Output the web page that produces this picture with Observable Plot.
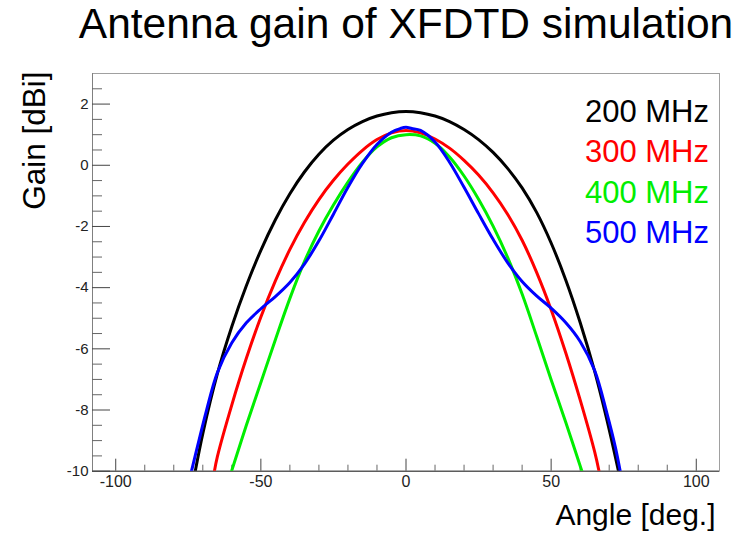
<!DOCTYPE html>
<html>
<head>
<meta charset="utf-8">
<script src="https://cdn.jsdelivr.net/npm/d3@7"></script>
<script src="https://cdn.jsdelivr.net/npm/@observablehq/plot@0.6"></script>
<style>
  html, body { margin: 0; padding: 0; background: #fff; }
  body { font-family: "Liberation Sans", Arial, Helvetica, sans-serif; }
  #wrap { position: relative; width: 750px; height: 535px; overflow: hidden; background: #fff; }
  #title { position: absolute; left: 406px; top: 3px; transform: translateX(-50%);
           white-space: nowrap; font-size: 42.5px; line-height: 42px; color: #000; }
  #chart { position: absolute; left: 0; top: 60px; }
</style>
</head>
<body>
<div id="wrap">
  <div id="title"></div>
  <div id="chart"></div>
</div>
<script>
// ---- text ----
const titleText = "Antenna gain of XFDTD simulation";
const xLabel = "Angle [deg.]";
const yLabel = "Gain [dBi]";

// ---- series (legend labels and colours) ----
const freqs = ["200 MHz", "300 MHz", "400 MHz", "500 MHz"];
const colors = ["#000000", "#ff0000", "#00ee00", "#0000ff"];

// ---- data: angle [deg.] and gain [dBi] ----
const angle200 = [-72.6, -70, -65, -60, -55, -50, -45, -40, -35, -30, -25, -20, -15, -10, -5, 0,
                  5, 10, 15, 20, 25, 30, 35, 40, 45, 50, 55, 60, 65, 70, 73.2];
const gain200  = [-10, -8.77, -6.82, -5.27, -3.94, -2.78, -1.78, -0.93, -0.22, 0.36, 0.82, 1.17, 1.43, 1.61, 1.72, 1.76,
                  1.72, 1.61, 1.43, 1.17, 0.84, 0.42, -0.1, -0.74, -1.54, -2.54, -3.74, -5.14, -6.74, -8.64, -10];

const angle300 = [-66.0, -65, -60, -55, -50, -45, -40, -35, -30, -25, -20, -15, -10, -5, 0,
                  5, 10, 15, 20, 25, 30, 35, 40, 45, 50, 55, 60, 65, 66.5];
const gain300  = [-10, -9.53, -7.83, -6.31, -4.96, -3.78, -2.75, -1.87, -1.12, -0.49, 0.04, 0.49, 0.84, 1.06, 1.14,
                  1.06, 0.86, 0.56, 0.16, -0.32, -0.9, -1.6, -2.45, -3.5, -4.72, -6.12, -7.67, -9.37, -10];

const angle400 = [-60.1, -55, -50, -45, -40, -35, -30, -25, -20, -15, -10, -5, 0,
                  5, 10, 15, 20, 25, 30, 35, 40, 45, 50, 55, 60.6];
const gain400  = [-10, -8.5, -7.1, -5.7, -4.35, -3.15, -2.15, -1.3, -0.55, 0.1, 0.6, 0.9, 1.0,
                  0.96, 0.72, 0.27, -0.35, -1.11, -1.99, -3.01, -4.21, -5.59, -7.01, -8.39, -10];

const angle500 = [-73.9, -71.6, -68.7, -65, -60, -55, -50, -45, -40, -35, -30, -25, -20, -15, -10, -5, -2, 0,
                  2, 5, 10, 15, 20, 25, 30, 35, 40, 45, 50, 55, 60, 65, 69.2, 72.1, 73.8];
const gain500  = [-10, -9.1, -8.0, -6.78, -5.8, -5.15, -4.69, -4.29, -3.83, -3.23, -2.47, -1.6, -0.72, 0.06, 0.68, 1.08, 1.2, 1.24,
                  1.2, 1.14, 0.76, 0.1, -0.72, -1.58, -2.42, -3.18, -3.8, -4.27, -4.67, -5.14, -5.76, -6.71, -8.1, -9.2, -10];

// ---- axes ----
const xDomain = [-108, 108];
const yDomain = [-10, 3];
const xMajor = [-100, -50, 0, 50, 100];
const xMinor = [-90, -80, -70, -60, -40, -30, -20, -10, 10, 20, 30, 40, 60, 70, 80, 90];
const yMajor = [-10, -8, -6, -4, -2, 0, 2];
const yMinor = [-9.5, -9, -8.5, -7.5, -7, -6.5, -5.5, -5, -4.5, -3.5, -3, -2.5, -1.5, -1, -0.5, 0.5, 1, 1.5, 2.5];

const angles = [angle200, angle300, angle400, angle500];
const gains = [gain200, gain300, gain400, gain500];
const series = freqs.map((f, i) => ({
  label: f,
  color: colors[i],
  points: angles[i].map((a, j) => ({angle: a, gain: gains[i][j]}))
}));

document.getElementById("title").textContent = titleText;

const font = '"Liberation Sans", Arial, Helvetica, sans-serif';

const plot = Plot.plot({
  width: 750,
  height: 475,
  marginTop: 13,
  marginBottom: 64.3,
  marginLeft: 92,
  marginRight: 31,
  style: {fontFamily: font, fontSize: "16px", background: "#fff", color: "#000"},
  x: {domain: xDomain},
  y: {domain: yDomain},
  marks: [
    Plot.frame({stroke: "#a0a0a0"}),
    Plot.ruleX([xDomain[0]], {stroke: "#808080"}),
    Plot.ruleY([yDomain[0]], {stroke: "#333"}),
    // ticks drawn inward
    Plot.axisY(yMajor, {tickSize: -18, fill: "none", stroke: "#444"}),
    Plot.axisY(yMinor, {tickSize: -10, fill: "none", stroke: "#666"}),
    Plot.axisX(xMajor, {tickSize: -12, fill: "none", stroke: "#444"}),
    Plot.axisX(xMinor, {tickSize: -6, fill: "none", stroke: "#666"}),
    // tick labels
    Plot.axisY(yMajor, {tickSize: 0, tickPadding: 4, tickFormat: d => String(d), label: null, fontSize: 15, fill: "#222"}),
    Plot.axisX(xMajor, {tickSize: 0, tickPadding: 4, tickFormat: d => String(d), label: null, fontSize: 16, fill: "#222"}),
    // curves
    ...series.map(s => Plot.line(s.points, {x: "angle", y: "gain", stroke: s.color, strokeWidth: 3, curve: "catmull-rom", clip: true})),
    // legend
    ...series.map((s, i) => Plot.text([s.label], {
      text: d => d, frameAnchor: "top-right", dx: -10.5, dy: 48 + 40.6 * i,
      textAnchor: "end", lineAnchor: "bottom", fill: s.color, fontSize: 31
    })),
    // axis titles
    Plot.text([xLabel], {text: d => d, frameAnchor: "bottom-right", dx: -4, dy: 53.3,
      textAnchor: "end", lineAnchor: "bottom", fontSize: 30, fill: "#000"}),
    Plot.text([yLabel], {text: d => d, frameAnchor: "top-left", dx: -48, dy: -2, rotate: -90,
      textAnchor: "end", lineAnchor: "bottom", fontSize: 31.5, fill: "#000"})
  ]
});
document.getElementById("chart").appendChild(plot);
</script>
</body>
</html>
